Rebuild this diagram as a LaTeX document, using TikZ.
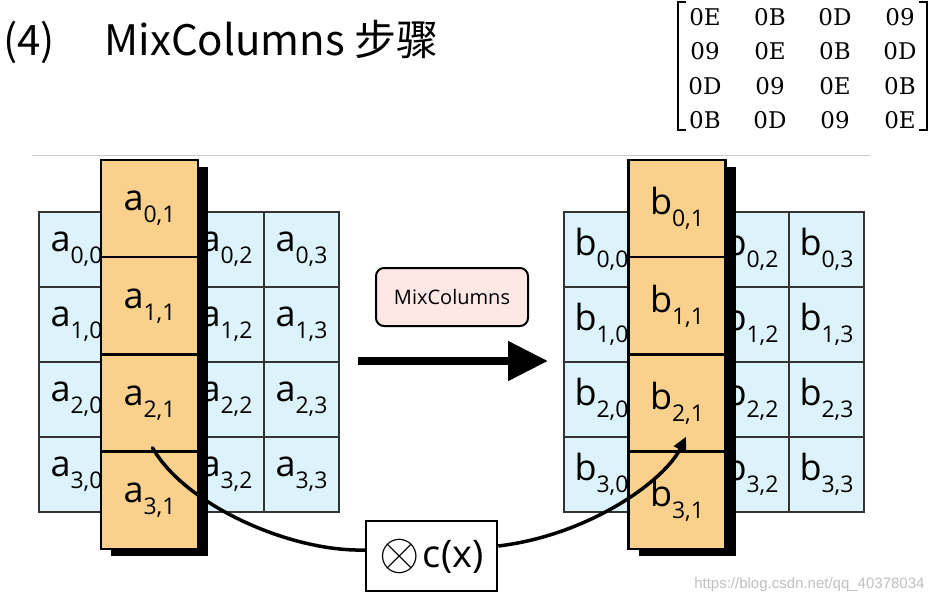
\documentclass[tikz,border=0pt]{standalone}
\usepackage{fontspec}
\setmainfont{Open Sans}
\newfontfamily\cjkfont{Noto Sans CJK SC}
\newfontfamily\hexfont{DejaVu Serif}
\newfontfamily\markfont{Liberation Sans}
\usetikzlibrary{positioning, arrows.meta, shadows}

\definecolor{stateblue}{HTML}{DDF3FB}
\definecolor{colorange}{HTML}{F9D18C}
\definecolor{oppink}{HTML}{FDE8E6}

\newcommand{\elem}[3]{{\fontsize{36}{36}\selectfont #1}\raisebox{-12pt}{\fontsize{23}{23}\selectfont #2,#3}}

\begin{document}
\begin{tikzpicture}[x=1pt, y=-1pt, >={Triangle[length=14pt, width=13pt]},
    statecell/.style = {draw=black!80, line width=1.5pt, fill=stateblue, minimum size=75pt, inner sep=0pt, outer sep=0pt},
    colcell/.style = {draw=black, line width=2.5pt, fill=colorange, minimum width=97pt, minimum height=97.25pt, inner sep=0pt, outer sep=0pt,
                      general shadow={fill=black, shadow xshift=10pt, shadow yshift=-7pt}},
    opbox/.style = {draw=black, line width=2pt, rounded corners=8pt, fill=oppink, minimum width=152pt, minimum height=58pt, font=\fontsize{20}{20}\selectfont},
    mulbox/.style = {draw=black, line width=2.5pt, fill=white, minimum width=131pt, minimum height=70pt, inner sep=0pt},
    hexval/.style = {font=\hexfont\fontsize{23}{23}\selectfont, inner sep=0pt},
  ]
  \useasboundingbox (0,0) rectangle (936,605);

  \node[anchor=base west, inner sep=0pt, font=\cjkfont\fontsize{42}{42}\selectfont] (title) at (3,55) {(4)\hspace{50pt}MixColumns 步骤};

  % coefficient matrix
  \foreach \row [count=\r from 0] in {{0E,0B,0D,09},{09,0E,0B,0D},{0D,09,0E,0B},{0B,0D,09,0E}}
    \foreach \v [count=\c from 0] in \row
      \node[hexval] (m\r\c) at (705+65*\c, 17+34.5*\r) {\v};
  \draw[line width=2pt] (686,2) -- (678,2) -- (678,130) -- (686,130);
  \draw[line width=2pt] (919,2) -- (927,2) -- (927,130) -- (919,130);

  \draw[black!20, line width=1pt] (32,155) -- (870,155);

  % state grids
  \foreach \g/\ox in {a/39, b/564}
    \foreach \r in {0,...,3}
      \foreach \c in {0,2,3}
        \node[statecell] (\g\r\c) at (\ox+37.5+75*\c, 249.5+75*\r) {\elem{\g}{\r}{\c}};

  % the mixed column
  \foreach \g/\ox in {a/149.5, b/677}
    \foreach \r in {0,...,3}
      \node[colcell] (\g\r1) at (\ox, 208.6+97.25*\r) {\elem{\g}{\r}{1}};

  \node[opbox] (mix) at (452,297) {MixColumns};
  \coordinate (arrS) at (358,361);
  \coordinate (arrE) at (548,361);
  \draw[line width=8pt, -{Triangle[length=40pt, width=38pt]}] (arrS) -- (arrE);

  \node[mulbox] (mul) at (431.5,556) {\raisebox{-2pt}{\scalebox{5.2}{$\otimes$}}\hspace{3pt}{\fontsize{38}{38}\selectfont c(x)}};

  \draw[line width=3.5pt, line cap=round] ([xshift=3pt, yshift=4pt]a21.south) .. controls (185,505) and (290,552) .. ([yshift=6pt]mul.west);
  \draw[line width=3.5pt, ->] ([yshift=10pt]mul.east) .. controls (590,535) and (665,480) .. ([xshift=9pt, yshift=15pt]b21.south);

  \node[font=\markfont\fontsize{15}{15}\selectfont, text=black!25, anchor=east] (mark) at (928,585) {https://blog.csdn.net/qq\_40378034};
\end{tikzpicture}
\end{document}
